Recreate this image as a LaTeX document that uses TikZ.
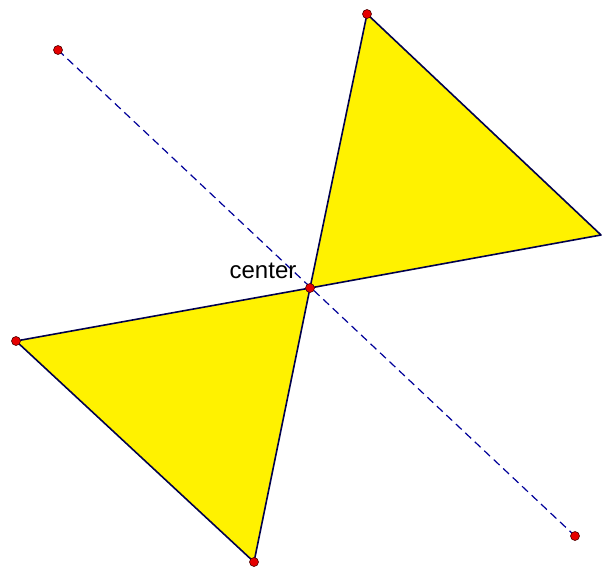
\documentclass[tikz,border=0pt]{standalone}
\usepackage{fontspec}
\setmainfont{Liberation Sans}
\begin{document}
\begin{tikzpicture}[x=1pt,y=-1pt,
  pt/.style={circle,fill=red!90!black,draw=red!30!black,line width=0.6pt,inner sep=0pt,minimum size=9pt},
  edge/.style={draw=blue!30!black,line width=1.6pt,line join=round},
  axis/.style={draw=blue!60!black,dash pattern=on 8pt off 5pt,line width=1.2pt},
  tri/.style={fill=yellow}]
\useasboundingbox (0,0) rectangle (602,571);
\coordinate (C) at (310,288);
\coordinate (T) at (367,14);
\coordinate (R) at (601,235);
\coordinate (L) at (16,341);
\coordinate (B) at (254,562);
\coordinate (A1) at (58,50);
\coordinate (A2) at (575,536);
\fill[tri] (C) -- (T) -- (R) -- cycle;
\fill[tri] (C) -- (L) -- (B) -- cycle;
\draw[axis] (A1) -- (A2);
\draw[edge] (C) -- (T) -- (R) -- cycle;
\draw[edge] (C) -- (L) -- (B) -- cycle;
\node[pt] (nT) at (T) {};
\node[pt] (nL) at (L) {};
\node[pt] (nB) at (B) {};
\node[pt] (nA1) at (A1) {};
\node[pt] (nA2) at (A2) {};
\node[pt] (nC) at (C) {};
\node[font=\fontsize{24}{28}\selectfont,anchor=base,inner sep=0pt] (lab) at (263,278) {center};
\end{tikzpicture}
\end{document}
